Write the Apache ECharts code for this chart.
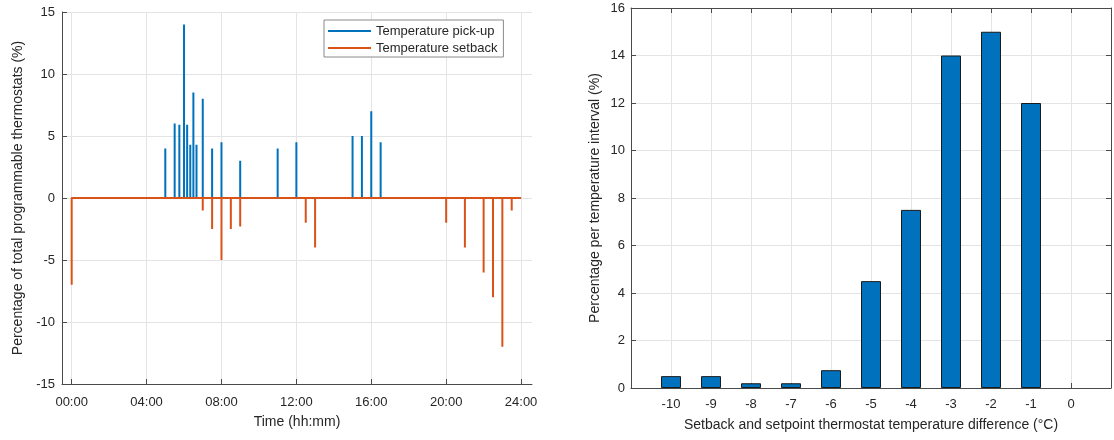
<!DOCTYPE html>
<html>
<head>
<meta charset="utf-8">
<script src="https://cdn.jsdelivr.net/npm/echarts@6/dist/echarts.min.js"></script>
<style>
html,body{margin:0;padding:0;background:#fff;}
#c{width:1114px;height:440px;}
</style>
</head>
<body>
<div id="c"></div>
<script>
// ---- Left chart data (time hh:mm, percentage) ----
var pickupTimes  = ['05:00','05:30','05:45','06:00','06:10','06:20','06:30','06:40','07:00','07:30','08:00','09:00','11:00','12:00','15:00','15:30','16:00','16:30'];
var pickupValues = [4, 6, 5.9, 14, 5.9, 4.3, 8.5, 4.3, 8, 4, 4.5, 3, 4, 4.5, 5, 5, 7, 4.5];
var setbackTimes  = ['00:00','07:00','07:30','08:00','08:30','09:00','12:30','13:00','20:00','21:00','22:00','22:30','23:00','23:30'];
var setbackValues = [-7, -1, -2.5, -5, -2.5, -2.3, -2, -4, -2, -4, -6, -8, -12, -1];
var timeTickLabels = ['00:00','04:00','08:00','12:00','16:00','20:00','24:00'];

// ---- Right chart data ----
var tempDiffCategories = [-10, -9, -8, -7, -6, -5, -4, -3, -2, -1, 0];
var tempDiffPercent    = [0.5, 0.5, 0.2, 0.2, 0.75, 4.5, 7.5, 14, 15, 12, 0];

function toMin(s){ var p = s.split(':'); return (+p[0])*60 + (+p[1]); }
function fmt(m){ var h = Math.floor(m/60), mm = m%60; return (h<10?'0':'')+h+':'+(mm<10?'0':'')+mm; }
function spikeLine(times, vals){
  var d = [[0,0]];
  for (var i=0;i<times.length;i++){
    var t = toMin(times[i]);
    d.push([t,0]); d.push([t,vals[i]]); d.push([t,0]);
  }
  d.push([1440,0]);
  return d;
}
var timeTicks = timeTickLabels.map(toMin);
var barData = tempDiffCategories.map(function(c,i){
  var v = tempDiffPercent[i];
  var o = {value: [c, v]};
  if (v === 0) o.itemStyle = {borderWidth: 0, opacity: 0};
  return o;
});

var FONT = '"Liberation Sans", Arial, Helvetica, sans-serif';
var TXT = '#262626';
var AX = '#4a4a4a';
var GRIDC = '#e4e4e4';
var BLUE = '#0072BD', ORANGE = '#D95319';

var chart = echarts.init(document.getElementById('c'), null, {renderer:'canvas'});
var option = {
  animation: false,
  backgroundColor: '#fff',
  textStyle: {fontFamily: FONT, color: TXT},
  grid: [
    {left: 62, top: 12, width: 470, height: 372},
    {left: 631, top: 8, width: 482, height: 380}
  ],
  legend: {
    data: ['Temperature pick-up','Temperature setback'],
    orient: 'vertical',
    left: 324, top: 20,
    padding: [4, 6, 2, 4],
    itemGap: 3,
    itemWidth: 43, itemHeight: 2,
    icon: 'rect',
    borderColor: '#8a8a8a', borderWidth: 1,
    backgroundColor: '#fff',
    textStyle: {fontFamily: FONT, fontSize: 13, color: TXT, lineHeight: 14, padding:[0,0,0,0]}
  },
  xAxis: [
    {
      gridIndex: 0, type: 'value', min: -31, max: 1475,
      name: 'Time (hh:mm)', nameLocation: 'middle', nameGap: 31,
      nameTextStyle: {fontFamily: FONT, fontSize: 14, color: TXT},
      axisLine: {show: true, onZero: false, lineStyle: {color: AX, width: 1}},
      axisTick: {show: true, inside: true, length: 5, customValues: timeTicks, lineStyle: {color: AX}},
      axisLabel: {customValues: timeTicks, formatter: function(v){ return fmt(v); }, fontFamily: FONT, fontSize: 13, color: TXT, margin: 12},
      splitLine: {show: false}
    },
    {
      gridIndex: 1, type: 'value', min: -11, max: 1, interval: 1,
      name: 'Setback and setpoint thermostat temperature difference (°C)', nameLocation: 'middle', nameGap: 30,
      nameTextStyle: {fontFamily: FONT, fontSize: 14, color: TXT},
      axisLine: {show: true, onZero: false, lineStyle: {color: AX, width: 1}},
      axisTick: {show: true, inside: true, length: 5, lineStyle: {color: AX}},
      axisLabel: {fontFamily: FONT, fontSize: 13, color: TXT, margin: 10,
        formatter: function(v){ return (v < -10 || v > 0) ? '' : String(v); }},
      splitLine: {show: true, lineStyle: {color: GRIDC, width: 1}}
    },
    {
      gridIndex: 1, type: 'value', min: -11, max: 1, interval: 1, position: 'top',
      axisLine: {show: true, onZero: false, lineStyle: {color: AX, width: 1}},
      axisTick: {show: true, inside: true, length: 5, lineStyle: {color: AX}},
      axisLabel: {show: false}, splitLine: {show: false}
    }
  ],
  yAxis: [
    {
      gridIndex: 0, type: 'value', min: -15, max: 15, interval: 5,
      name: 'Percentage of total programmable thermostats (%)', nameLocation: 'middle', nameGap: 37,
      nameTextStyle: {fontFamily: FONT, fontSize: 14, color: TXT},
      axisLine: {show: true, onZero: false, lineStyle: {color: AX, width: 1}},
      axisTick: {show: true, inside: true, length: 5, lineStyle: {color: AX}},
      axisLabel: {fontFamily: FONT, fontSize: 13, color: TXT, margin: 7},
      splitLine: {show: true, lineStyle: {color: GRIDC, width: 1}}
    },
    {
      gridIndex: 1, type: 'value', min: 0, max: 16, interval: 2,
      name: 'Percentage per temperature interval (%)', nameLocation: 'middle', nameGap: 29,
      nameTextStyle: {fontFamily: FONT, fontSize: 14, color: TXT},
      axisLine: {show: true, onZero: false, lineStyle: {color: AX, width: 1}},
      axisTick: {show: true, inside: true, length: 5, lineStyle: {color: AX}},
      axisLabel: {fontFamily: FONT, fontSize: 13, color: TXT, margin: 6},
      splitLine: {show: true, lineStyle: {color: GRIDC, width: 1}}
    },
    {
      gridIndex: 1, type: 'value', min: 0, max: 16, interval: 2, position: 'right',
      axisLine: {show: true, onZero: false, lineStyle: {color: AX, width: 1}},
      axisTick: {show: true, inside: true, length: 5, lineStyle: {color: AX}},
      axisLabel: {show: false}, splitLine: {show: false}
    }
  ],
  series: [
    {
      name: 'Temperature pick-up', type: 'line', xAxisIndex: 0, yAxisIndex: 0,
      data: spikeLine(pickupTimes, pickupValues),
      showSymbol: false, symbol: 'none',
      lineStyle: {color: BLUE, width: 2}, itemStyle: {color: BLUE},
      markLine: {
        silent: true, symbol: 'none', label: {show: false},
        lineStyle: {color: GRIDC, width: 1, type: 'solid'},
        data: timeTicks.map(function(t){ return {xAxis: t}; }),
        z: 0
      },
      z: 2
    },
    {
      name: 'Temperature setback', type: 'line', xAxisIndex: 0, yAxisIndex: 0,
      data: spikeLine(setbackTimes, setbackValues),
      showSymbol: false, symbol: 'none',
      lineStyle: {color: ORANGE, width: 2}, itemStyle: {color: ORANGE},
      z: 3
    },
    {
      name: 'bars', type: 'bar', xAxisIndex: 1, yAxisIndex: 1,
      data: barData, barWidth: 20,
      itemStyle: {color: BLUE, borderColor: '#1a1a1a', borderWidth: 1}
    }
  ]
};
chart.setOption(option);
</script>
</body>
</html>
